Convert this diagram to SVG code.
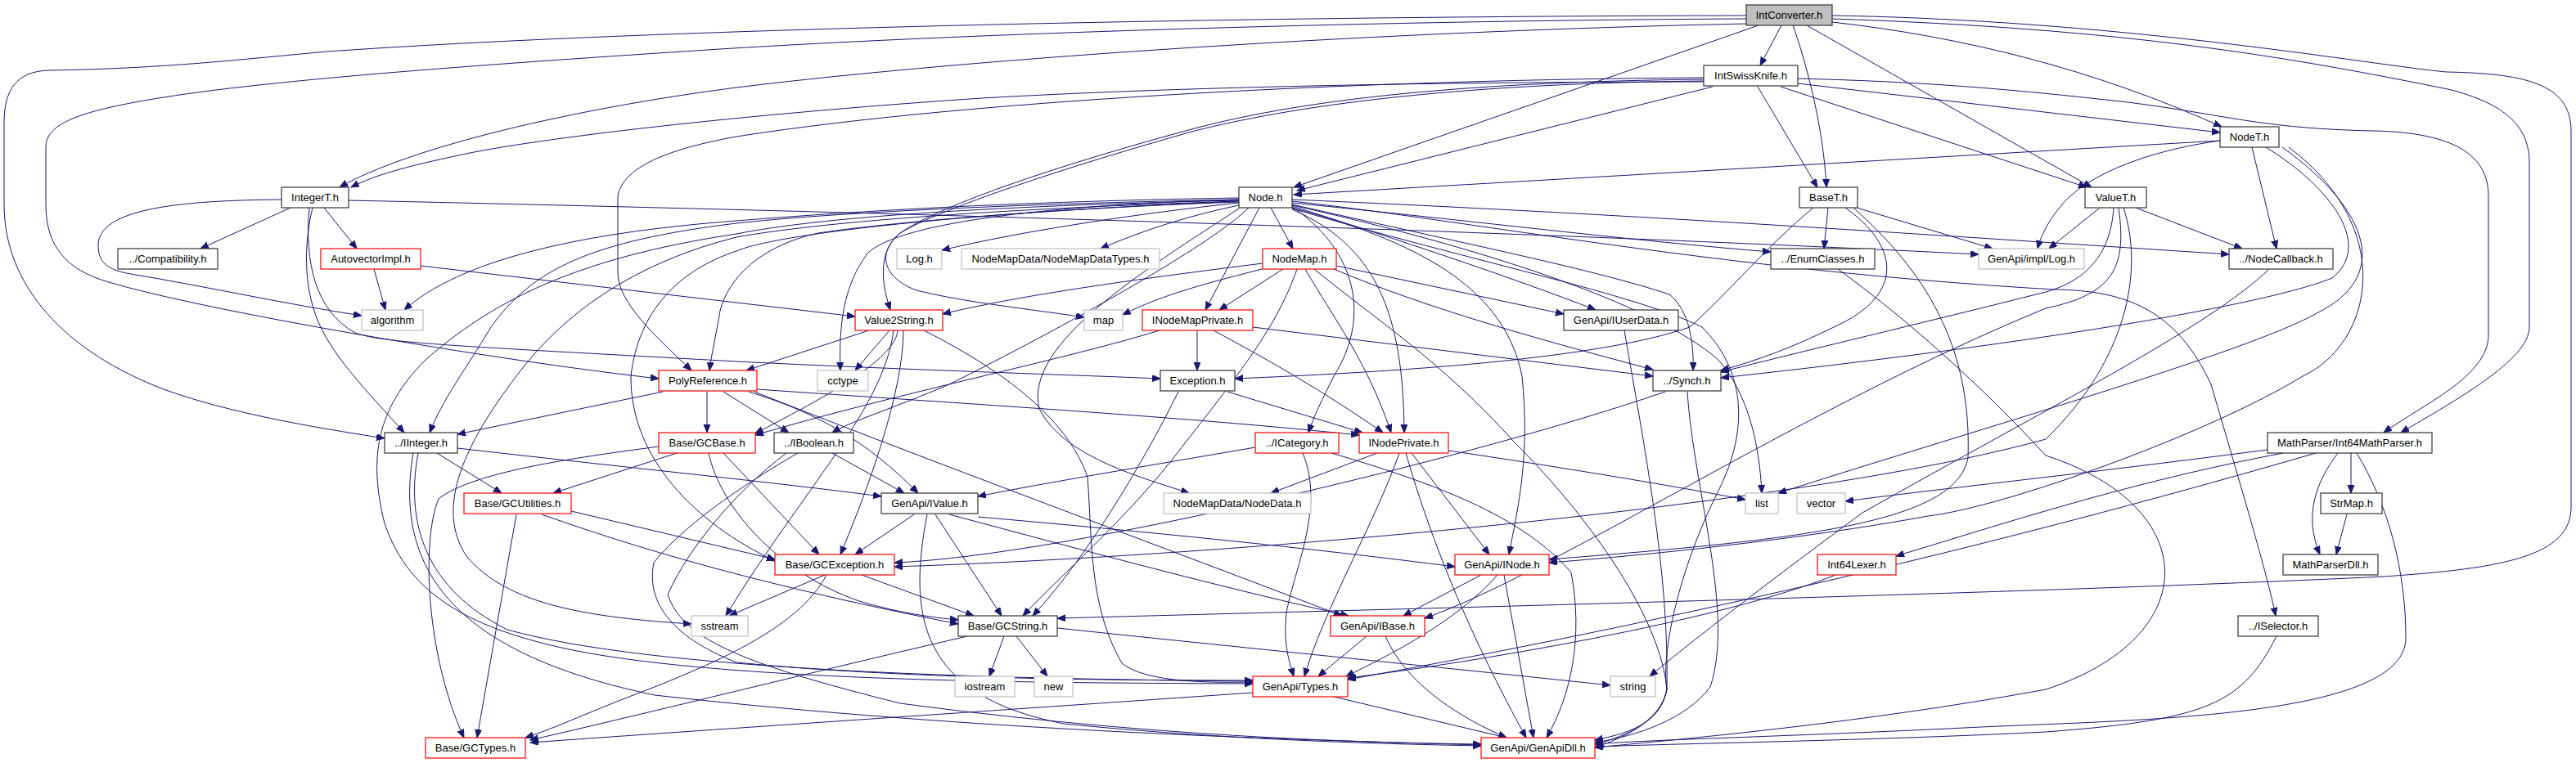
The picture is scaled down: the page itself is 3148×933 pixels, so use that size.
<svg xmlns="http://www.w3.org/2000/svg" width="3148" height="933" viewBox="0 0 3148 933">
<style>
.nd rect{fill:#fff;stroke-width:1.2}
.b rect{stroke:#333}
.r rect{stroke:#ff0000}
.g rect{stroke:#bfbfbf}
.root rect{fill:#bfbfbf;stroke:#333}
.nd text{font-family:"Liberation Sans",Arial,Helvetica,sans-serif;font-size:13px;text-anchor:middle;fill:#000}
#edges path{fill:none;stroke:#191970;stroke-width:1;marker-end:url(#ah)}
</style>
<defs>
<marker id="ah" markerUnits="userSpaceOnUse" markerWidth="11" markerHeight="9" refX="10" refY="4" orient="auto" viewBox="0 0 11 9">
<path d="M0,0 L10,4 L0,8 z" fill="#191970" stroke="#191970" stroke-width="1"/>
</marker>
</defs>
<rect width="3148" height="933" fill="#fff"/>
<g id="edges">
<path d="M2177,31 L2151,80"/>
<path d="M2191,31 C2205,70 2228,150 2232,229"/>
<path d="M2208,31 L2556,229"/>
<path d="M2149,31 L1581,229"/>
<path d="M2239,27 C2400,45 2560,85 2715,155"/>
<path d="M2134,29 C1700,38 1200,70 900,107 C700,133 500,180 415,229"/>
<path d="M2134,19 C1500,20 800,35 400,63 C300,72 200,84 60,86 C20,87 5,110 5,150 L5,250 C5,350 80,430 200,476 C280,505 380,522 470,536"/>
<path d="M2134,23 C1700,25 1200,40 880,60 C650,75 350,95 200,119 C100,135 56,150 56,180 L56,250 C56,300 80,330 133,345 C250,380 600,440 805,463"/>
<path d="M2239,23 C2600,35 2800,70 2996,110 C3070,130 3091,160 3091,200 L3091,400 C3091,440 3000,490 2934,529"/>
<path d="M2239,19 C2600,25 2900,80 2990,88 C3080,90 3142,100 3142,160 L3142,620 C3142,680 3060,695 2913,705 C2500,725 1700,745 1292,756"/>
<path d="M2197,96 C2350,100 2450,108 2600,125 C2720,140 2760,157 2900,160 C3000,162 3041,190 3041,240 L3041,410 C3041,460 2960,495 2913,529"/>
<path d="M2197,102 L2713,162"/>
<path d="M2176,106 L2550,229"/>
<path d="M2148,106 L2221,229"/>
<path d="M2093,106 L1585,233"/>
<path d="M2082,100 C1800,100 1461,105 1200,120 C900,140 650,170 560,190 C500,203 460,213 429,229"/>
<path d="M2082,95 C1700,97 1200,120 900,167 C800,185 760,210 755,240 L755,333 C755,370 800,410 845,453"/>
<path d="M2082,97 C1800,100 1600,120 1460,157 C1300,200 1150,250 1100,285 C1075,305 1075,340 1088,379"/>
<path d="M2082,99 C1800,102 1600,125 1460,160 C1300,205 1150,255 1100,285 C1070,310 1080,340 1120,355 C1180,370 1260,378 1325,388"/>
<path d="M2713,172 L1581,238"/>
<path d="M2713,172 C2620,185 2550,215 2520,250 C2505,268 2495,285 2490,304"/>
<path d="M2752,180 L2782,304"/>
<path d="M2769,180 C2850,230 2900,300 2850,340 C2750,380 2400,430 2103,462"/>
<path d="M2789,180 C2900,260 2920,340 2831,383 C2750,430 2400,530 2173,603"/>
<path d="M2797,180 C2930,280 2900,420 2814,460 C2700,530 2450,620 2356,631 C2200,660 2000,680 1893,688"/>
<path d="M2583,254 C2580,300 2560,340 2500,357 C2350,395 2200,430 2103,455"/>
<path d="M2589,254 C2600,330 2580,360 2500,377 C2200,500 1900,700 1741,756"/>
<path d="M2595,254 C2620,330 2600,440 2500,537 C2200,620 1500,680 1093,693"/>
<path d="M2610,254 L2740,304"/>
<path d="M2566,254 L2504,304"/>
<path d="M2234,254 L2229,304"/>
<path d="M2269,254 L2435,304"/>
<path d="M2216,254 C2160,300 2110,360 2065,400 C1950,440 1700,455 1509,463"/>
<path d="M2255,254 C2320,300 2330,360 2241,400 C2190,425 2150,440 2103,453"/>
<path d="M2265,254 C2350,330 2410,420 2405,560 C2390,640 2200,660 1893,684"/>
<path d="M355,254 L245,304"/>
<path d="M396,254 L436,304"/>
<path d="M344,244 C220,245 120,255 120,300 C120,320 130,330 160,335 C250,350 350,372 442,386"/>
<path d="M382,254 C373,290 370,340 385,383 C400,430 450,480 494,529"/>
<path d="M378,254 C372,320 385,380 434,407 C470,420 560,423 900,442 C1100,452 1300,458 1418,463"/>
<path d="M426,245 C1200,262 1900,285 2418,311"/>
<path d="M457,329 L471,379"/>
<path d="M514,325 L1045,387"/>
<path d="M1514,248 C1400,260 1250,282 1151,306"/>
<path d="M1514,251 C1460,262 1400,280 1345,304"/>
<path d="M1553,254 L1580,304"/>
<path d="M1539,254 L1473,379"/>
<path d="M1514,242 C1200,247 1000,262 900,270 C700,285 560,320 494,379"/>
<path d="M1514,244 C1200,250 1000,262 900,273 C720,295 650,330 600,400 C570,450 540,490 525,529"/>
<path d="M1514,245 C1200,252 1000,266 900,286 C700,316 600,370 520,440 C460,500 450,560 470,640 C500,730 580,770 700,795 C900,835 1300,835 1531,836"/>
<path d="M1514,246 C1200,256 1000,272 900,290 C780,320 690,380 631,460 C570,540 530,620 570,680 C620,740 720,755 845,763"/>
<path d="M1514,247 C1200,258 950,285 900,307 C830,330 780,380 771,460 C770,560 850,640 947,686"/>
<path d="M1514,246 C1300,255 1100,270 1000,285 C930,300 890,340 880,380 C875,410 870,430 867,453"/>
<path d="M1514,244 C1300,250 1100,270 1060,310 C1030,350 1025,400 1027,453"/>
<path d="M1526,254 C1480,300 1300,400 1160,470 C1090,500 1040,515 1017,529"/>
<path d="M1579,253 C1650,300 1680,380 1630,460 C1615,490 1605,510 1599,529"/>
<path d="M1579,256 C1680,300 1715,380 1716,529"/>
<path d="M1579,254 C1750,300 1840,360 1860,460 C1870,560 1855,620 1844,678"/>
<path d="M1579,252 C1700,290 1850,340 1950,379"/>
<path d="M1579,250 C1800,300 1950,330 2040,360 C2065,380 2070,420 2069,453"/>
<path d="M1579,251 C1800,300 2020,370 2100,440 C2135,480 2150,540 2153,603"/>
<path d="M1579,248 C1800,270 2000,295 2164,308"/>
<path d="M1579,244 C2000,262 2400,290 2724,311"/>
<path d="M1579,246 C1800,270 2100,330 2510,354 C2600,355 2660,380 2702,470 C2740,600 2770,700 2781,753"/>
<path d="M1579,255 C1800,320 2000,360 2080,400 C2130,450 2140,520 2100,600 C2050,700 2030,800 2037,843 C2030,880 1990,900 1949,910"/>
<path d="M1514,255 C1400,330 1250,420 1270,500 C1300,560 1400,585 1453,603"/>
<path d="M1568,329 L1490,379"/>
<path d="M1543,322 C1400,340 1250,360 1152,384"/>
<path d="M1546,328 C1480,345 1420,360 1372,385"/>
<path d="M1633,325 L1911,384"/>
<path d="M1630,329 C1750,380 1900,420 2020,452"/>
<path d="M1595,329 C1630,390 1670,440 1700,529"/>
<path d="M1606,329 C1680,390 1760,440 1850,540 C1950,640 2030,760 2037,843 C2030,880 1990,900 1949,914"/>
<path d="M1585,329 C1560,400 1520,450 1430,565 C1370,640 1300,700 1250,753"/>
<path d="M1463,404 L1463,453"/>
<path d="M1483,404 C1550,440 1620,480 1690,529"/>
<path d="M1531,400 L2020,460"/>
<path d="M1417,404 C1300,440 1100,480 923,532"/>
<path d="M1500,479 L1665,529"/>
<path d="M1440,479 C1400,560 1330,680 1262,753"/>
<path d="M1062,404 L912,453"/>
<path d="M1087,404 L1045,453"/>
<path d="M1097,404 C1095,440 1000,490 923,530"/>
<path d="M1104,404 C1104,480 1060,600 1027,678"/>
<path d="M1129,404 C1200,440 1300,500 1329,583 C1335,660 1330,740 1371,811 C1400,835 1480,835 1531,834"/>
<path d="M1092,404 C1080,500 980,600 887,753"/>
<path d="M810,479 L559,531"/>
<path d="M864,479 L864,529"/>
<path d="M884,479 L964,529"/>
<path d="M915,479 C1000,505 1060,540 1122,603"/>
<path d="M925,476 C1200,495 1450,510 1661,532"/>
<path d="M922,479 C1100,550 1450,680 1640,753"/>
<path d="M559,548 C750,570 950,590 1077,607"/>
<path d="M534,554 L613,603"/>
<path d="M511,554 C495,640 520,720 620,770 C800,820 1200,830 1531,833"/>
<path d="M505,554 C480,700 560,800 800,850 C1200,895 1600,905 1810,911"/>
<path d="M827,554 L676,603"/>
<path d="M805,546 C700,560 578,577 536,610 C515,660 520,800 567,902"/>
<path d="M884,554 L1001,678"/>
<path d="M866,554 C880,620 950,700 1050,735 C1100,750 1140,755 1171,758"/>
<path d="M631,629 L583,902"/>
<path d="M698,625 L947,684"/>
<path d="M662,629 C750,660 900,710 1171,763"/>
<path d="M1017,554 L1105,603"/>
<path d="M975,554 C930,580 841,635 799,688 C790,733 816,777 900,810 C1100,830 1350,832 1531,832"/>
<path d="M961,554 C900,600 841,670 816,727 C834,780 900,810 1100,860 C1400,900 1650,908 1810,910"/>
<path d="M1117,629 L1045,678"/>
<path d="M1143,629 L1224,753"/>
<path d="M1195,632 C1400,650 1600,670 1778,693"/>
<path d="M1160,629 C1350,680 1500,720 1648,753"/>
<path d="M1133,629 C1110,750 1120,850 1300,885 C1500,905 1700,910 1810,912"/>
<path d="M1008,703 L891,753"/>
<path d="M1053,703 L1190,753"/>
<path d="M1010,703 C980,760 900,800 800,840 C720,870 680,890 642,902"/>
<path d="M1227,778 L1209,827"/>
<path d="M1242,778 L1280,827"/>
<path d="M1182,778 C1000,820 800,870 648,905"/>
<path d="M1292,768 C1500,790 1800,820 1968,838"/>
<path d="M1534,547 C1400,570 1280,590 1195,607"/>
<path d="M1592,554 C1620,620 1580,700 1572,750 C1568,790 1576,810 1581,827"/>
<path d="M1627,554 C1750,590 1860,630 1920,700 C1935,780 1920,850 1890,902"/>
<path d="M1683,554 L1553,603"/>
<path d="M1725,554 L1820,678"/>
<path d="M1710,554 C1680,640 1620,740 1594,827"/>
<path d="M1718,554 C1760,700 1820,820 1865,902"/>
<path d="M1770,551 C1900,570 2050,595 2133,611"/>
<path d="M1810,703 L1715,753"/>
<path d="M1830,703 C1780,760 1700,800 1645,827"/>
<path d="M1838,703 L1874,902"/>
<path d="M1670,778 L1611,827"/>
<path d="M1693,778 C1720,840 1790,880 1841,902"/>
<path d="M1630,852 L1841,902"/>
<path d="M1531,847 C1200,870 900,890 648,908"/>
<path d="M2873,554 L2873,603"/>
<path d="M2857,554 C2830,590 2815,630 2835,678"/>
<path d="M2868,629 L2855,678"/>
<path d="M2790,554 C2600,590 2450,640 2317,680"/>
<path d="M2830,554 C2500,650 2100,750 1647,831"/>
<path d="M2880,554 C2920,620 2940,700 2940,780 C2940,880 2600,880 2400,890 C2200,900 2000,905 1949,910"/>
<path d="M2771,550 C2500,585 2350,600 2255,613"/>
<path d="M2243,703 C2100,760 1800,810 1647,829"/>
<path d="M2782,778 C2740,860 2700,880 2500,895 C2300,905 2100,908 1949,913"/>
<path d="M1985,404 C2010,550 2040,700 2037,843 C2030,880 2000,895 1949,905"/>
<path d="M2062,479 C2070,600 2120,750 2090,840 C2060,880 2000,900 1949,908"/>
<path d="M2035,479 C1800,560 1300,680 1093,688"/>
<path d="M2246,329 C2330,390 2420,470 2500,557 C2694,620 2694,780 2500,843 C2300,880 2100,900 1949,914"/>
<path d="M2773,329 C2700,400 2500,500 2276,627 C2150,720 2060,790 2016,827"/>
</g>
<g id="n_IntConverter" class="nd root"><rect x="2134" y="6" width="105" height="25"/><text x="2186.5" y="23">IntConverter.h</text></g>
<g id="n_IntSwissKnife" class="nd b"><rect x="2082" y="80" width="115" height="25"/><text x="2139.5" y="97">IntSwissKnife.h</text></g>
<g id="n_NodeT" class="nd b"><rect x="2713" y="155" width="72" height="25"/><text x="2749" y="172">NodeT.h</text></g>
<g id="n_IntegerT" class="nd b"><rect x="344" y="229" width="82" height="25"/><text x="385" y="246">IntegerT.h</text></g>
<g id="n_Node" class="nd b"><rect x="1514" y="229" width="65" height="25"/><text x="1546.5" y="246">Node.h</text></g>
<g id="n_BaseT" class="nd b"><rect x="2199" y="229" width="71" height="25"/><text x="2234.5" y="246">BaseT.h</text></g>
<g id="n_ValueT" class="nd b"><rect x="2548" y="229" width="75" height="25"/><text x="2585.5" y="246">ValueT.h</text></g>
<g id="n_Compatibility" class="nd b"><rect x="144" y="304" width="122" height="25"/><text x="205" y="321">../Compatibility.h</text></g>
<g id="n_AutovectorImpl" class="nd r"><rect x="392" y="304" width="122" height="25"/><text x="453" y="321">AutovectorImpl.h</text></g>
<g id="n_Log" class="nd g"><rect x="1096" y="304" width="55" height="25"/><text x="1123.5" y="321">Log.h</text></g>
<g id="n_NodeMapDataTypes" class="nd g"><rect x="1175" y="304" width="242" height="25"/><text x="1296" y="321">NodeMapData/NodeMapDataTypes.h</text></g>
<g id="n_NodeMap" class="nd r"><rect x="1543" y="304" width="90" height="25"/><text x="1588" y="321">NodeMap.h</text></g>
<g id="n_EnumClasses" class="nd b"><rect x="2164" y="304" width="127" height="25"/><text x="2227.5" y="321">../EnumClasses.h</text></g>
<g id="n_implLog" class="nd g"><rect x="2418" y="304" width="129" height="25"/><text x="2482.5" y="321">GenApi/impl/Log.h</text></g>
<g id="n_NodeCallback" class="nd b"><rect x="2724" y="304" width="127" height="25"/><text x="2787.5" y="321">../NodeCallback.h</text></g>
<g id="n_algorithm" class="nd g"><rect x="442" y="379" width="75" height="25"/><text x="479.5" y="396">algorithm</text></g>
<g id="n_Value2String" class="nd r"><rect x="1045" y="379" width="107" height="25"/><text x="1098.5" y="396">Value2String.h</text></g>
<g id="n_map" class="nd g"><rect x="1325" y="379" width="47" height="25"/><text x="1348.5" y="396">map</text></g>
<g id="n_INodeMapPrivate" class="nd r"><rect x="1396" y="379" width="135" height="25"/><text x="1463.5" y="396">INodeMapPrivate.h</text></g>
<g id="n_IUserData" class="nd b"><rect x="1911" y="379" width="140" height="25"/><text x="1981" y="396">GenApi/IUserData.h</text></g>
<g id="n_PolyReference" class="nd r"><rect x="805" y="453" width="120" height="25"/><text x="865" y="470">PolyReference.h</text></g>
<g id="n_cctype" class="nd g"><rect x="999" y="453" width="62" height="25"/><text x="1030" y="470">cctype</text></g>
<g id="n_Exception" class="nd b"><rect x="1418" y="453" width="91" height="25"/><text x="1463.5" y="470">Exception.h</text></g>
<g id="n_Synch" class="nd b"><rect x="2020" y="453" width="83" height="25"/><text x="2061.5" y="470">../Synch.h</text></g>
<g id="n_IInteger" class="nd b"><rect x="470" y="529" width="89" height="25"/><text x="514.5" y="546">../IInteger.h</text></g>
<g id="n_GCBase" class="nd r"><rect x="805" y="529" width="118" height="25"/><text x="864" y="546">Base/GCBase.h</text></g>
<g id="n_IBoolean" class="nd b"><rect x="946" y="529" width="97" height="25"/><text x="994.5" y="546">../IBoolean.h</text></g>
<g id="n_ICategory" class="nd r"><rect x="1534" y="529" width="102" height="25"/><text x="1585" y="546">../ICategory.h</text></g>
<g id="n_INodePrivate" class="nd r"><rect x="1661" y="529" width="109" height="25"/><text x="1715.5" y="546">INodePrivate.h</text></g>
<g id="n_Int64MathParser" class="nd b"><rect x="2771" y="529" width="201" height="25"/><text x="2871.5" y="546">MathParser/Int64MathParser.h</text></g>
<g id="n_GCUtilities" class="nd r"><rect x="567" y="603" width="131" height="25"/><text x="632.5" y="620">Base/GCUtilities.h</text></g>
<g id="n_IValue" class="nd b"><rect x="1077" y="603" width="118" height="25"/><text x="1136" y="620">GenApi/IValue.h</text></g>
<g id="n_NodeData" class="nd g"><rect x="1422" y="603" width="180" height="25"/><text x="1512" y="620">NodeMapData/NodeData.h</text></g>
<g id="n_list" class="nd g"><rect x="2133" y="603" width="40" height="25"/><text x="2153" y="620">list</text></g>
<g id="n_vector" class="nd g"><rect x="2196" y="603" width="59" height="25"/><text x="2225.5" y="620">vector</text></g>
<g id="n_StrMap" class="nd b"><rect x="2836" y="603" width="75" height="25"/><text x="2873.5" y="620">StrMap.h</text></g>
<g id="n_GCException" class="nd r"><rect x="947" y="678" width="146" height="25"/><text x="1020" y="695">Base/GCException.h</text></g>
<g id="n_INode" class="nd r"><rect x="1778" y="678" width="115" height="25"/><text x="1835.5" y="695">GenApi/INode.h</text></g>
<g id="n_Int64Lexer" class="nd r"><rect x="2221" y="678" width="96" height="25"/><text x="2269" y="695">Int64Lexer.h</text></g>
<g id="n_MathParserDll" class="nd b"><rect x="2790" y="678" width="116" height="25"/><text x="2848" y="695">MathParserDll.h</text></g>
<g id="n_sstream" class="nd g"><rect x="845" y="753" width="69" height="25"/><text x="879.5" y="770">sstream</text></g>
<g id="n_GCString" class="nd b"><rect x="1171" y="753" width="121" height="25"/><text x="1231.5" y="770">Base/GCString.h</text></g>
<g id="n_IBase" class="nd r"><rect x="1626" y="753" width="115" height="25"/><text x="1683.5" y="770">GenApi/IBase.h</text></g>
<g id="n_ISelector" class="nd b"><rect x="2735" y="753" width="98" height="25"/><text x="2784" y="770">../ISelector.h</text></g>
<g id="n_iostream" class="nd g"><rect x="1167" y="827" width="73" height="25"/><text x="1203.5" y="844">iostream</text></g>
<g id="n_new" class="nd g"><rect x="1264" y="827" width="47" height="25"/><text x="1287.5" y="844">new</text></g>
<g id="n_Types" class="nd r"><rect x="1531" y="827" width="116" height="25"/><text x="1589" y="844">GenApi/Types.h</text></g>
<g id="n_string" class="nd g"><rect x="1968" y="827" width="55" height="25"/><text x="1995.5" y="844">string</text></g>
<g id="n_GCTypes" class="nd r"><rect x="520" y="902" width="122" height="25"/><text x="581" y="919">Base/GCTypes.h</text></g>
<g id="n_GenApiDll" class="nd r"><rect x="1810" y="902" width="139" height="25"/><text x="1879.5" y="919">GenApi/GenApiDll.h</text></g>
</svg>
